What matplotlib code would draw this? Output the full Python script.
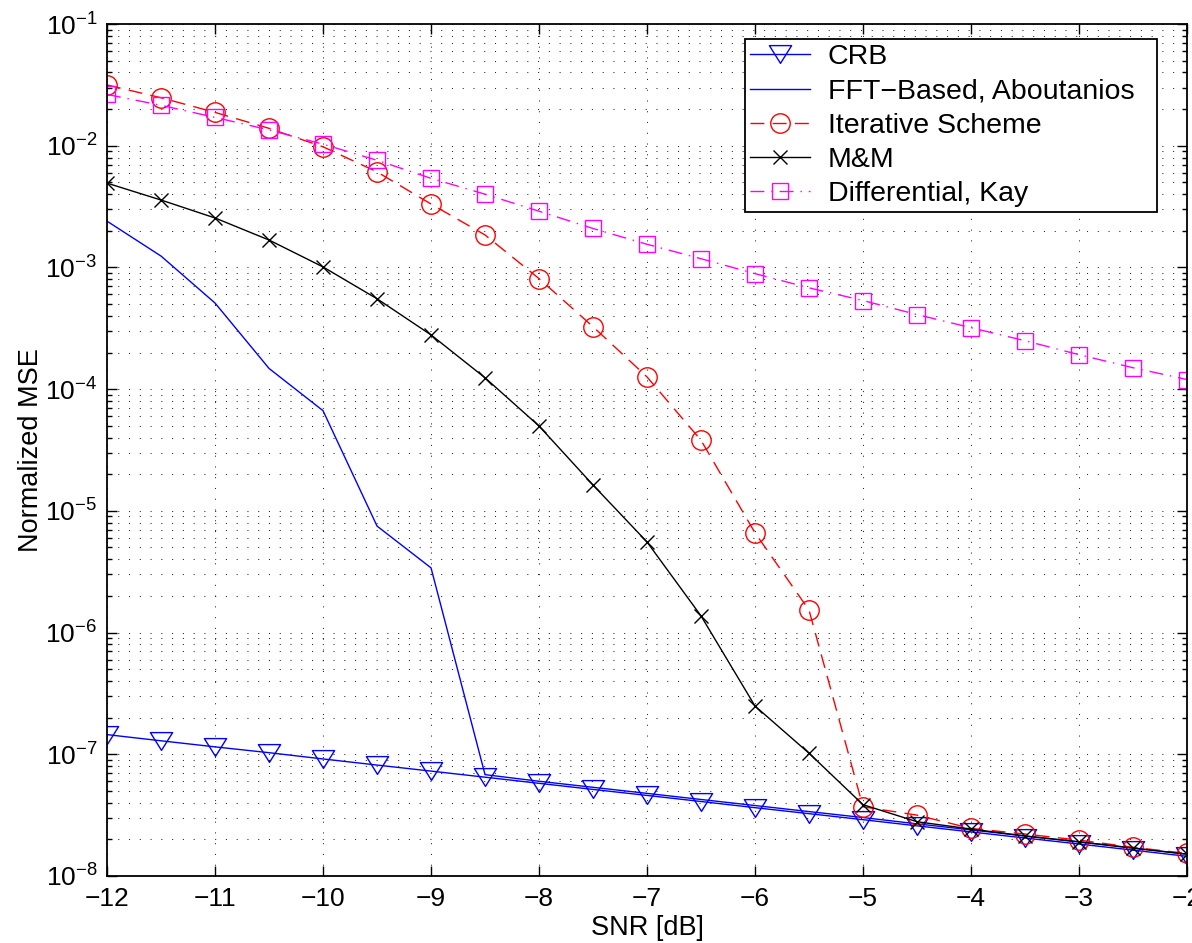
import matplotlib
matplotlib.use("Agg")
import matplotlib.pyplot as plt
from matplotlib.path import Path
from matplotlib.ticker import LogLocator, NullFormatter, FixedLocator

plt.rcParams['font.family'] = ['Liberation Sans', 'DejaVu Sans']
plt.rcParams['mathtext.fontset'] = 'custom'
plt.rcParams['mathtext.rm'] = 'Liberation Sans'
plt.rcParams['mathtext.it'] = 'Liberation Sans'
plt.rcParams['lines.scale_dashes'] = False

snr_db = [-12, -11.5, -11, -10.5, -10, -9.5, -9, -8.5, -8, -7.5, -7,
          -6.5, -6, -5.5, -5, -4.5, -4, -3.5, -3, -2.5, -2]

crb = [1.45e-7, 1.29e-7, 1.15e-7, 1.03e-7, 9.15e-8, 8.15e-8, 7.27e-8,
       6.48e-8, 5.77e-8, 5.14e-8, 4.59e-8, 4.09e-8, 3.64e-8, 3.25e-8,
       2.90e-8, 2.58e-8, 2.30e-8, 2.05e-8, 1.83e-8, 1.63e-8, 1.45e-8]

fft_aboutanios = [2.4e-3, 1.24e-3, 5.1e-4, 1.48e-4, 6.65e-5, 7.5e-6, 3.4e-6,
                  6.8e-8, 6.0e-8, 5.35e-8, 4.77e-8, 4.25e-8, 3.79e-8, 3.38e-8,
                  3.02e-8, 2.68e-8, 2.39e-8, 2.13e-8, 1.90e-8, 1.70e-8, 1.51e-8]

iterative = [3.16e-2, 2.48e-2, 1.88e-2, 1.39e-2, 9.8e-3, 6.1e-3, 3.32e-3,
             1.85e-3, 8.1e-4, 3.26e-4, 1.26e-4, 3.8e-5, 6.6e-6, 1.53e-6,
             3.7e-8, 3.16e-8, 2.46e-8, 2.21e-8, 1.97e-8, 1.72e-8, 1.53e-8]

mm = [4.93e-3, 3.58e-3, 2.55e-3, 1.68e-3, 1.01e-3, 5.53e-4, 2.79e-4,
      1.24e-4, 4.98e-5, 1.63e-5, 5.55e-6, 1.37e-6, 2.49e-7, 1.02e-7,
      3.85e-8, 2.79e-8, 2.43e-8, 2.13e-8, 1.91e-8, 1.69e-8, 1.51e-8]

kay = [2.64e-2, 2.15e-2, 1.71e-2, 1.35e-2, 1.03e-2, 7.6e-3, 5.4e-3,
       4.0e-3, 2.9e-3, 2.09e-3, 1.55e-3, 1.18e-3, 8.9e-4, 6.8e-4,
       5.35e-4, 4.1e-4, 3.2e-4, 2.5e-4, 1.92e-4, 1.5e-4, 1.2e-4]

# wide, flat downward triangle like the classic 'v' marker
tri_down = Path([(-1, 0.8), (1, 0.8), (0, -0.8), (-1, 0.8)],
                [Path.MOVETO, Path.LINETO, Path.LINETO, Path.CLOSEPOLY])

BLUE, RED, MAGENTA = '#0000ff', '#ff0000', '#ff00ff'

fig = plt.figure(figsize=(11.92, 9.43), dpi=100)
ax = fig.add_axes([0.0898, 0.0711, 0.906, 0.9034])

ax.semilogy(snr_db, crb, color=BLUE, lw=1.0, marker=tri_down, markersize=16,
            markerfacecolor='none', markeredgecolor=BLUE, markeredgewidth=1.0,
            label='CRB')
ax.semilogy(snr_db, fft_aboutanios, color=BLUE, lw=1.0,
            label='FFT\u2212Based, Aboutanios')
ax.semilogy(snr_db, iterative, color=RED, lw=1.0, dashes=(10, 6), marker='o',
            markersize=14, markerfacecolor='none', markeredgecolor=RED,
            markeredgewidth=1.0, label='Iterative Scheme')
ax.semilogy(snr_db, mm, color='k', lw=1.0, marker='x', markersize=10,
            markeredgewidth=1.0, label='M&M')
ax.semilogy(snr_db, kay, color=MAGENTA, lw=1.0, dashes=(10, 5, 1, 5),
            marker='s', markersize=11.5, markerfacecolor='none',
            markeredgecolor=MAGENTA, markeredgewidth=1.0,
            label='Differential, Kay')

ax.set_xlim(-12, -2)
ax.set_ylim(1e-8, 1e-1)
ax.xaxis.set_major_locator(FixedLocator(list(range(-12, -1))))
ax.yaxis.set_major_locator(LogLocator(base=10, numticks=20))
ax.yaxis.set_minor_locator(LogLocator(base=10, subs=range(2, 10), numticks=20))
ax.yaxis.set_minor_formatter(NullFormatter())

grid_style = dict(color='0.15', linestyle=(0, (0.75, 7.0)), linewidth=0.75)
ax.grid(True, which='major', **grid_style)
ax.yaxis.grid(True, which='minor', **grid_style)

ax.tick_params(which='both', direction='in', top=True, right=True,
               labelsize=19, width=1.0)
ax.tick_params(which='major', length=7.5)
ax.tick_params(which='minor', length=3.8)
ax.tick_params(axis='x', pad=8)
ax.tick_params(axis='y', pad=7)
for side in ax.spines.values():
    side.set_linewidth(1.3)

ax.set_xlabel('SNR [dB]', fontsize=19.5, labelpad=3)
ax.set_ylabel('Normalized MSE', fontsize=19.5, labelpad=1)

# legend box stretched to the fixed frame in the upper right corner
leg = ax.legend(loc='upper left', bbox_to_anchor=(0.5907, 0.982, 0.3815, 0.0),
                mode='expand', borderaxespad=0, fontsize=20.5,
                fancybox=False, framealpha=1, edgecolor='k',
                handlelength=2.1, handletextpad=0.63,
                labelspacing=0.29, borderpad=0.17)
leg.get_frame().set_linewidth(1.3)

fig.savefig('out.png', dpi=100)
